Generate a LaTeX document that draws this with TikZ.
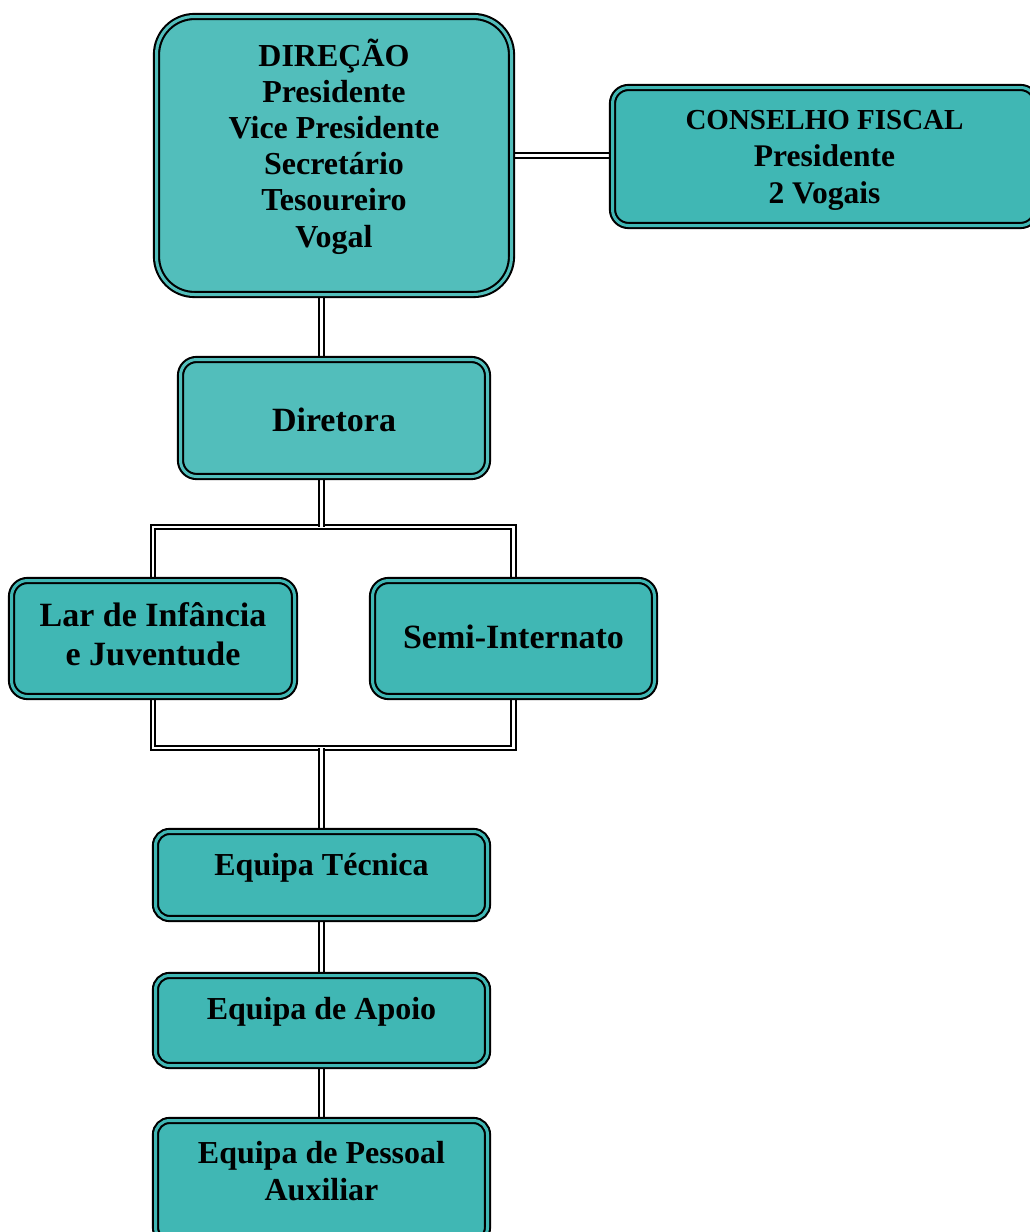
\documentclass[tikz,border=0pt]{standalone}
\usepackage{fontspec}
\setmainfont{Liberation Serif}
\usetikzlibrary{backgrounds}
\definecolor{tealA}{HTML}{52BEBB}
\definecolor{tealB}{HTML}{40B7B4}
\tikzset{
	orgbox/.style={draw=black, line width=2.1pt, double=#1, double distance=3pt,
		fill=#1, rounded corners=16pt, inner sep=0pt, align=center,
		font=\bfseries\fontsize{32}{37}\selectfont},
	orgbox/.default=tealB,
	linkline/.style={draw=black, line width=1.8pt, double=white, double distance=2.6pt}
}

\begin{document}
\begin{tikzpicture}[x=1pt, y=-1pt]
	\useasboundingbox (0,0) rectangle (1030,1232);
\node[orgbox=tealA, minimum width=355pt, minimum height=278pt, rounded corners=38pt,
  font=\bfseries\fontsize{32}{36.2}\selectfont, text height=210pt, text depth=27pt]
  (dir) at (334,155.5) {DIREÇÃO\\Presidente\\Vice Presidente\\Secretário\\Tesoureiro\\Vogal};
\node[orgbox, minimum width=424pt, minimum height=138pt, font=\bfseries\fontsize{31.5}{36.7}\selectfont,
  text height=95pt, text depth=2pt]
  (cons) at (824.5,156.5) {{\fontsize{29}{36.7}\selectfont CONSELHO FISCAL}\\Presidente\\2 Vogais};
\node[orgbox=tealA, minimum width=307pt, minimum height=117pt, font=\bfseries\fontsize{34}{40}\selectfont,
  text height=28pt, text depth=1pt] (dirt) at (334,418) {Diretora};
\node[orgbox, minimum width=283pt, minimum height=116pt, font=\bfseries\fontsize{34}{39}\selectfont,
  text height=63pt, text depth=8.6pt] (lar) at (153,638.5) {Lar de Infância\\e Juventude};
\node[orgbox, minimum width=282pt, minimum height=116pt, font=\bfseries\fontsize{34}{39}\selectfont,
  text height=24pt, text depth=5pt] (semi) at (513.5,638.5) {Semi-Internato};
\node[orgbox, minimum width=332pt, minimum height=87pt, rounded corners=14pt,
  text height=23pt, text depth=23pt] (tec) at (321.5,875) {Equipa Técnica};
\node[orgbox, minimum width=332pt, minimum height=90pt, rounded corners=14pt,
  text height=23pt, text depth=25pt] (apo) at (321.5,1020.5) {Equipa de Apoio};
\node[orgbox, minimum width=332pt, minimum height=121pt, rounded corners=14pt,
  text height=60pt, text depth=22pt] (pes) at (321.5,1181) {Equipa de Pessoal\\Auxiliar};
\coordinate (barA) at (321.5,527);
\coordinate (barB) at (321.5,748);
\begin{scope}[on background layer]
\draw[linkline] (dir.east) -- (dir.east -| cons.west);
\draw[linkline] (dir.south -| tec) -- (dirt.north -| tec);
\draw[linkline] (lar.north) |- (barA) -| (semi.north);
\draw[linkline] (dirt.south -| barA) -- (barA);
\draw[linkline] (lar.south) |- (barB) -| (semi.south);
\draw[linkline] (barB) -- (tec.north);
\draw[linkline] (tec) -- (apo);
\draw[linkline] (apo) -- (pes);
\end{scope}
\end{tikzpicture}
\end{document}
